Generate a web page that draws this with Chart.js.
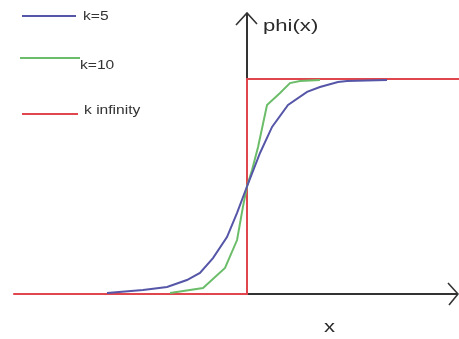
<!DOCTYPE html>
<html>
<head>
<meta charset="utf-8">
<script src="https://cdn.jsdelivr.net/npm/chart.js@4"></script>
<style>
html,body{margin:0;padding:0;background:#fff;}
#wrap{width:459px;height:339px;}
</style>
</head>
<body>
<div id="wrap"><canvas id="c" width="459" height="339"></canvas></div>
<script>
// ---- data ----
const seriesLabels = ["k=5", "k=10", "k infinity"];
const k5X  = [-1.0, -0.743, -0.571, -0.429, -0.336, -0.243, -0.143, -0.071, 0, 0.093, 0.179, 0.293, 0.429, 0.521, 0.65, 0.714, 1.0];
const k5Y  = [0.005, 0.019, 0.033, 0.065, 0.098, 0.167, 0.265, 0.377, 0.5, 0.656, 0.777, 0.879, 0.940, 0.963, 0.986, 0.991, 0.995];
const k10X = [-0.55, -0.314, -0.157, -0.071, -0.029, 0, 0.036, 0.079, 0.143, 0.236, 0.307, 0.379, 0.521];
const k10Y = [0.005, 0.028, 0.121, 0.251, 0.405, 0.5, 0.577, 0.684, 0.879, 0.935, 0.981, 0.991, 0.995];
const kinfX = [-1.67, 0, 0, 1.52];
const kinfY = [0, 0, 1, 1];
const axisTitleY = "phi(x)";
const axisTitleX = "x";

const colors = ["#5656a8", "#6cbd6a", "#e0464e"];
const pts = (xs, ys) => xs.map((x, i) => ({x: x, y: ys[i]}));

const axesPlugin = {
  id: "axes",
  beforeDatasetsDraw(chart) {
    const ctx = chart.ctx, xs = chart.scales.x, ys = chart.scales.y;
    const x0 = xs.getPixelForValue(0), y0 = ys.getPixelForValue(0);
    ctx.save();
    ctx.strokeStyle = "#333";
    ctx.lineWidth = 2;
    ctx.beginPath();
    ctx.moveTo(x0, y0); ctx.lineTo(x0, 13);
    ctx.moveTo(x0, y0); ctx.lineTo(457, y0);
    ctx.stroke();
    ctx.lineWidth = 1.6;
    ctx.beginPath();
    ctx.moveTo(x0 - 11, 25); ctx.lineTo(x0, 13); ctx.lineTo(x0 + 10, 24);
    ctx.moveTo(448, y0 - 11); ctx.lineTo(458, y0); ctx.lineTo(449, y0 + 11);
    ctx.stroke();
    ctx.restore();
  },
  afterDraw(chart) {
    const ctx = chart.ctx;
    ctx.save();
    const stretched = (txt, x, y, size) => {
      ctx.save();
      ctx.font = size + "px 'Liberation Sans', Arial, sans-serif";
      ctx.textBaseline = "middle";
      ctx.translate(x, y);
      ctx.scale(1.3, 1);
      ctx.fillText(txt, 0, 0);
      ctx.restore();
    };
    ctx.fillStyle = "#2a2a2a";
    stretched(axisTitleY, 263, 26, 17);
    stretched(axisTitleX, 324, 327, 17);
    // legend
    const leg = [
      {x1: 22, x2: 76, y: 16, tx: 83, ty: 17},
      {x1: 20, x2: 80, y: 58, tx: 80, ty: 66},
      {x1: 22, x2: 78, y: 114, tx: 84, ty: 111}
    ];
    chart.data.datasets.forEach((ds, i) => {
      const l = leg[i];
      ctx.strokeStyle = ds.borderColor;
      ctx.lineWidth = 2;
      ctx.beginPath(); ctx.moveTo(l.x1, l.y); ctx.lineTo(l.x2, l.y); ctx.stroke();
      ctx.fillStyle = "#333";
      stretched(ds.label, l.tx, l.ty, 12);
    });
    ctx.restore();
  }
};

new Chart(document.getElementById("c"), {
  type: "scatter",
  data: {
    datasets: [
      {label: seriesLabels[0], data: pts(k5X, k5Y), borderColor: colors[0]},
      {label: seriesLabels[1], data: pts(k10X, k10Y), borderColor: colors[1]},
      {label: seriesLabels[2], data: pts(kinfX, kinfY), borderColor: colors[2]}
    ].map(d => Object.assign(d, {showLine: true, borderWidth: 2, pointRadius: 0, tension: 0, backgroundColor: d.borderColor}))
  },
  options: {
    responsive: false,
    animation: false,
    layout: {padding: 0},
    plugins: {legend: {display: false}, tooltip: {enabled: false}},
    scales: {
      x: {type: "linear", min: -247/140, max: 212/140, display: false},
      y: {type: "linear", min: -45/215, max: 294/215, display: false}
    }
  },
  plugins: [axesPlugin]
});
</script>
</body>
</html>
